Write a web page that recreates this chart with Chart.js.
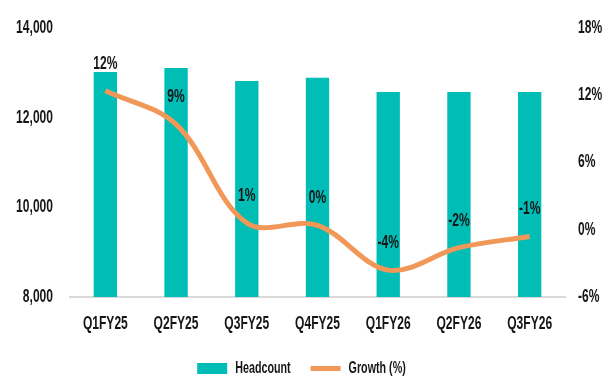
<!DOCTYPE html>
<html>
<head>
<meta charset="utf-8">
<script src="https://cdn.jsdelivr.net/npm/chart.js@4.4.1/dist/chart.umd.min.js"></script>
<style>
  html, body { margin: 0; padding: 0; background: #fff; }
  #wrap { width: 603px; height: 376px; }
</style>
</head>
<body>
<div id="wrap"><canvas id="c" width="603" height="376"></canvas></div>
<script>
const quarters = ['Q1FY25', 'Q2FY25', 'Q3FY25', 'Q4FY25', 'Q1FY26', 'Q2FY26', 'Q3FY26'];
const headcount = [13020, 13110, 12820, 12890, 12570, 12570, 12570];
const growth = [12.4, 9.4, 0.6, 0.4, -3.6, -1.6, -0.6];

const leftTicks = [8000, 10000, 12000, 14000];
const rightTicks = [-6, 0, 6, 12, 18];

const FONT = "'Liberation Sans', Arial, sans-serif";
const TEAL = '#00bdb6';
const ORANGE = '#f19858';
const INK = '#161616';

// 元画像は Arial Narrow 風なので、文字を横方向だけ縮める
const SX = 0.67;
const canvas = document.getElementById('c');
const ctx = canvas.getContext('2d');
const origFill = ctx.fillText;
ctx.fillText = function (t, x, y) {
  this.save();
  this.translate(x, y);
  this.scale(SX, 1);
  origFill.call(this, t, 0, 0);
  this.restore();
};
const origMeasure = ctx.measureText;
ctx.measureText = function (t) {
  const m = origMeasure.call(this, t);
  return {
    width: m.width * SX,
    actualBoundingBoxAscent: m.actualBoundingBoxAscent,
    actualBoundingBoxDescent: m.actualBoundingBoxDescent
  };
};

// 折れ線の上に成長率ラベル
const growthLabels = {
  id: 'growthLabels',
  afterDatasetsDraw(chart) {
    const c = chart.ctx;
    const meta = chart.getDatasetMeta(0);
    c.save();
    c.font = 'bold 18px ' + FONT;
    c.fillStyle = INK;
    c.textAlign = 'center';
    c.textBaseline = 'middle';
    meta.data.forEach((pt, i) => {
      c.fillText(Math.round(growth[i]) + '%', pt.x, pt.y - 27);
    });
    c.restore();
  }
};

new Chart(ctx, {
  data: {
    labels: quarters,
    datasets: [
      {
        type: 'line',
        label: 'Growth (%)',
        data: growth,
        yAxisID: 'y2',
        borderColor: ORANGE,
        backgroundColor: ORANGE,
        borderWidth: 5,
        pointRadius: 0,
        tension: 0.35,
        order: 1
      },
      {
        type: 'bar',
        label: 'Headcount',
        data: headcount,
        yAxisID: 'y',
        backgroundColor: TEAL,
        barPercentage: 0.66,
        categoryPercentage: 0.5,
        order: 2
      }
    ]
  },
  options: {
    responsive: false,
    animation: false,
    layout: { padding: { top: 28, bottom: -10.5, left: 0, right: 0 } },
    scales: {
      x: {
        grid: { display: false, drawTicks: false },
        border: { display: true, color: '#d9d9d9', width: 2 },
        ticks: { color: INK, font: { family: FONT, size: 18, weight: 'bold' }, padding: 16 },
        afterFit(scale) { scale.height = 43.5; }
      },
      y: {
        position: 'left',
        min: 8000,
        max: 14000,
        afterBuildTicks(scale) { scale.ticks = leftTicks.map(v => ({ value: v })); },
        grid: { display: false, drawTicks: false },
        border: { display: false },
        ticks: {
          color: INK,
          padding: 17,
          font: { family: FONT, size: 18, weight: 'bold' },
          callback: v => v.toLocaleString('en-US')
        },
        afterFit(scale) { scale.width = 70; }
      },
      y2: {
        position: 'right',
        min: -6,
        max: 18,
        afterBuildTicks(scale) { scale.ticks = rightTicks.map(v => ({ value: v })); },
        grid: { display: false, drawTicks: false },
        border: { display: false },
        ticks: {
          color: INK,
          padding: 13,
          font: { family: FONT, size: 18, weight: 'bold' },
          callback: v => v + '%'
        },
        afterFit(scale) { scale.width = 38; }
      }
    },
    plugins: {
      tooltip: { enabled: false },
      legend: {
        position: 'bottom',
        reverse: true,
        labels: {
          color: INK,
          font: { family: FONT, size: 16, weight: 'bold' },
          usePointStyle: true,
          pointStyleWidth: 30,
          boxHeight: 11,
          padding: 20,
          generateLabels(chart) {
            return chart.data.datasets.map((ds, i) => ({
              text: ds.label,
              datasetIndex: i,
              fillStyle: ds.type === 'bar' ? TEAL : ORANGE,
              strokeStyle: ds.type === 'bar' ? TEAL : ORANGE,
              lineWidth: ds.type === 'bar' ? 0 : 5,
              pointStyle: ds.type === 'bar' ? 'rect' : 'line',
              fontColor: INK
            }));
          }
        }
      }
    }
  },
  plugins: [growthLabels]
});
</script>
</body>
</html>
